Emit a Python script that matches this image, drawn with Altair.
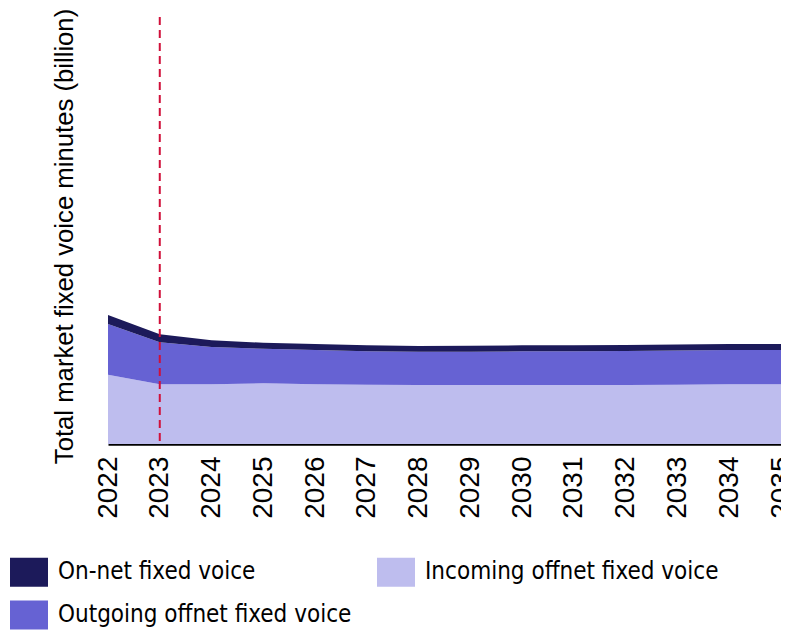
import altair as alt
import pandas as pd

years = list(range(2022, 2036))
incoming = [16.2, 14.0, 14.0, 14.2, 14.0, 13.9, 13.8, 13.8, 13.8, 13.8, 13.8, 13.9, 14.0, 14.0]
outgoing = [11.9, 9.8, 8.7, 8.1, 8.0, 7.8, 7.8, 7.8, 7.9, 7.9, 8.0, 8.0, 8.0, 8.0]
onnet = [2.1, 1.9, 1.6, 1.4, 1.4, 1.4, 1.35, 1.4, 1.4, 1.4, 1.4, 1.4, 1.4, 1.4]
series = ["On-net fixed voice", "Incoming offnet fixed voice", "Outgoing offnet fixed voice"]
colors = ["#1c1a5a", "#bebdee", "#6662d3"]
stack_rank = {"Incoming offnet fixed voice": 0, "Outgoing offnet fixed voice": 1, "On-net fixed voice": 2}
forecast_start = [2023]

rows = []
for i, y in enumerate(years):
    rows.append({"year": y, "series": "Incoming offnet fixed voice", "value": incoming[i]})
    rows.append({"year": y, "series": "Outgoing offnet fixed voice", "value": outgoing[i]})
    rows.append({"year": y, "series": "On-net fixed voice", "value": onnet[i]})
df = pd.DataFrame(rows)
df["rank"] = df["series"].map(stack_rank)

legend_font = "Liberation Sans Narrow, DejaVu Sans Condensed, Roboto Condensed, Liberation Sans"

x_enc = alt.X("year:Q", scale=alt.Scale(domain=[2022, 2035], nice=False, zero=False),
              axis=alt.Axis(values=years, format="d", title=None, ticks=False, grid=False,
                            domainColor="black", domainWidth=2.5, labelAngle=270,
                            labelAlign="right", labelBaseline="middle", labelFontSize=28,
                            labelFont="Liberation Sans", labelColor="black", labelPadding=12,
                            labelOverlap=False, labelFlush=False))

area = alt.Chart(df).mark_area(opacity=1).encode(
    x=x_enc,
    y=alt.Y("value:Q", stack="zero", scale=alt.Scale(domain=[0, 100], nice=False),
            axis=alt.Axis(title="Total market fixed voice minutes (billion)", labels=False,
                          ticks=False, domain=False, grid=False, titleFontSize=25.7,
                          titleFont="Liberation Sans", titleFontWeight="normal",
                          titleColor="black", titlePadding=31, titleY=219)),
    color=alt.Color("series:N", scale=alt.Scale(domain=series, range=colors),
                    legend=alt.Legend(title=None, orient="none", legendX=-98, legendY=536,
                                      columns=2, direction="horizontal",
                                      symbolType="M-1,-0.763H1V0.763H-1Z", symbolSize=1444,
                                      symbolStrokeWidth=0, symbolOpacity=1,
                                      labelFont=legend_font, labelFontSize=24,
                                      labelColor="black", labelOffset=10, columnPadding=25,
                                      rowPadding=9, labelLimit=400)),
    order=alt.Order("rank:Q", sort="ascending"),
)

rule = alt.Chart(pd.DataFrame({"year": forecast_start})).mark_rule(
    color="#d0103a", strokeWidth=2, strokeDash=[8, 5]
).encode(x="year:Q")

chart = alt.layer(area, rule).properties(
    width=673, height=427,
    autosize=alt.AutoSizeParams(type="none"),
    padding={"left": 100, "top": 9, "right": 0, "bottom": 186},
).configure_view(stroke=None)

chart.save("out.html", embed_options={"renderer": "svg", "actions": False})
